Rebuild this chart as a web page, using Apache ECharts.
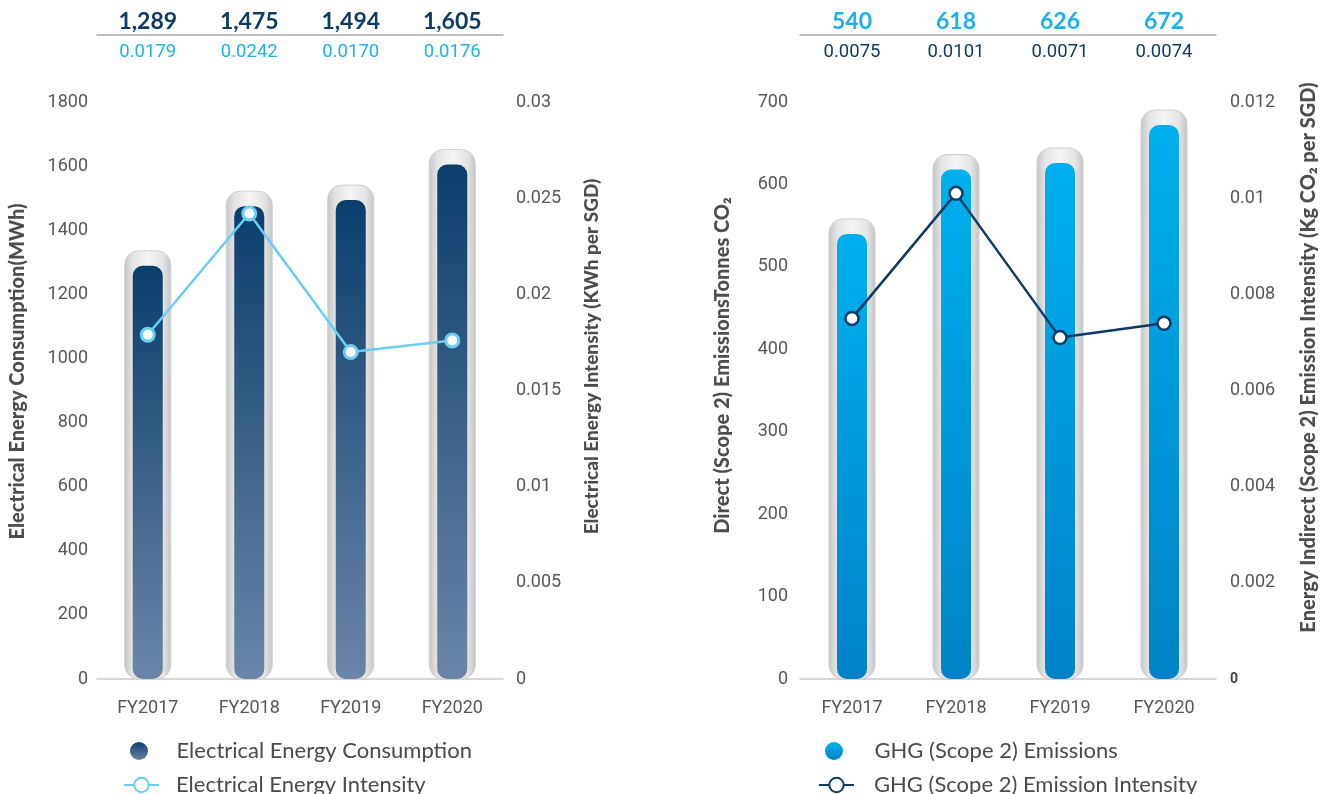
<!DOCTYPE html>
<html>
<head>
<meta charset="utf-8">
<script src="https://cdn.jsdelivr.net/npm/echarts@6/dist/echarts.min.js"></script>
<style>
html,body{margin:0;padding:0;background:#fff;}
#chart{width:1324px;height:794px;}
</style>
</head>
<body>
<div id="chart"></div>
<script>
const categories = ['FY2017', 'FY2018', 'FY2019', 'FY2020'];
const energyMWh = [1289, 1475, 1494, 1605];
const energyIntensity = [0.0179, 0.0242, 0.0170, 0.0176];
const ghgTonnes = [540, 618, 626, 672];
const ghgIntensity = [0.0075, 0.0101, 0.0071, 0.0074];
const energyTicks = { min: 0, max: 1800, interval: 200 };
const energyIntTicks = { min: 0, max: 0.03, interval: 0.005 };
const ghgTicks = { min: 0, max: 700, interval: 100 };
const ghgIntTicks = { min: 0, max: 0.012, interval: 0.002 };

const chart = echarts.init(document.getElementById('chart'));
const G = echarts.graphic;
const tickFont = 'Roboto, "Liberation Sans", sans-serif';
const nameFont = 'Lato, "Noto Sans", sans-serif';
const tickColor = '#575757';
const nameColor = '#4d4d4d';
const axisLineStyle = { onZero: false, lineStyle: { color: '#c9c9c9', width: 1.5 } };

function capsuleItem(params, api) {
  const top = api.coord([api.value(0), api.value(1)]);
  const base = api.coord([api.value(0), 0]);
  const w = 46, pad = 15;
  return {
    type: 'rect',
    shape: { x: top[0] - w / 2, y: top[1] - pad, width: w, height: base[1] - top[1] + pad, r: 14 },
    style: {
      fill: new G.LinearGradient(0, 0, 1, 0, [
        { offset: 0, color: '#c4c4c4' },
        { offset: 0.18, color: '#e4e4e4' },
        { offset: 0.5, color: '#f5f5f5' },
        { offset: 0.82, color: '#e4e4e4' },
        { offset: 1, color: '#c4c4c4' }
      ]),
      stroke: '#cfcfcf',
      lineWidth: 1
    }
  };
}

function yAxisCfg(gridIndex, pos, ticks, name, nameGap, nameSize, margin, shiftUp, extra) {
  return Object.assign({
    type: 'value', gridIndex: gridIndex, position: pos,
    min: ticks.min, max: ticks.max, interval: ticks.interval,
    name: name, nameLocation: 'middle', nameRotate: 90, nameGap: nameGap,
    nameTextStyle: { fontFamily: nameFont, fontWeight: 900, fontSize: nameSize, color: nameColor, padding: [0, 0, 0, shiftUp * 2] },
    axisLine: { show: false }, axisTick: { show: false }, splitLine: { show: false },
    axisLabel: { fontFamily: tickFont, fontSize: 18, color: tickColor, margin: margin, formatter: v => String(v) }
  }, extra || {});
}

function xAxes(gridIndex, topVals, topFmt, topColor, subVals, subFmt, subColor) {
  return [
    {
      type: 'category', gridIndex: gridIndex, data: categories, position: 'bottom',
      axisLine: axisLineStyle, axisTick: { show: false },
      axisLabel: { fontFamily: tickFont, fontSize: 18, color: tickColor, margin: 20 }
    },
    {
      type: 'category', gridIndex: gridIndex, data: categories, position: 'top', offset: 67,
      axisLine: { show: true, onZero: false, lineStyle: { color: '#a8a8a8', width: 1.5 } }, axisTick: { show: false },
      axisLabel: {
        margin: 2, fontFamily: nameFont, fontWeight: 'bold', fontSize: 23, color: topColor,
        formatter: function (v, i) { return topFmt(topVals[i]); }
      }
    },
    {
      type: 'category', gridIndex: gridIndex, data: categories, position: 'top', offset: 38,
      axisLine: { show: false, onZero: false }, axisTick: { show: false },
      axisLabel: {
        margin: 2, fontFamily: tickFont, fontSize: 18.5, color: subColor,
        formatter: function (v, i) { return subFmt(subVals[i]); }
      }
    }
  ];
}

const fmtInt = v => v.toLocaleString('en-US');
const fmt4 = v => v.toFixed(4);

function legendCfg(left, top, name, icon, pad) {
  const item = icon ? { name: name, icon: icon } : { name: name };
  return {
    orient: 'vertical', left: left, top: top, itemWidth: 35, itemHeight: 18,
    textStyle: { fontFamily: nameFont, fontSize: 22, color: '#4a4a4a', padding: [0, 0, 0, pad] },
    data: [item]
  };
}

const option = {
  backgroundColor: '#fff',
  animation: false,
  grid: [
    { left: 97, top: 102, width: 406, height: 577 },
    { left: 800, top: 102, width: 416, height: 577 }
  ],
  xAxis: [].concat(
    xAxes(0, energyMWh, fmtInt, '#0d3b66', energyIntensity, fmt4, '#1fb1ea'),
    xAxes(1, ghgTonnes, fmtInt, '#1ab0ea', ghgIntensity, fmt4, '#0d3b66')
  ),
  yAxis: [
    yAxisCfg(0, 'left', energyTicks, 'Electrical Energy Consumption(MWh)', 69, 20, 9, 19),
    yAxisCfg(0, 'right', energyIntTicks, 'Electrical Energy Intensity (KWh per SGD)', 79, 19, 13, 34),
    yAxisCfg(1, 'left', ghgTicks, 'Direct (Scope 2) EmissionsTonnes CO₂', 67, 20, 12, 25),
    yAxisCfg(1, 'right', ghgIntTicks, 'Energy Indirect (Scope 2) Emission Intensity (Kg CO₂ per SGD)', 83, 20, 14, 33, {
      axisLabel: {
        fontFamily: tickFont, fontSize: 18, color: tickColor, margin: 14,
        formatter: function (v) { return v === 0 ? '{b|0}' : String(v); },
        rich: { b: { fontFamily: tickFont, fontWeight: 'bold', fontSize: 14, color: '#444' } }
      }
    })
  ],
  legend: [
    legendCfg(125, 735, 'Electrical Energy Consumption', 'circle', 15),
    legendCfg(118, 769, 'Electrical Energy Intensity', null, 12),
    legendCfg(820, 735, 'GHG (Scope 2) Emissions', 'circle', 18),
    legendCfg(813, 769, 'GHG (Scope 2) Emission Intensity', null, 15)
  ],
  series: [
    {
      type: 'custom', name: 'capsuleL', xAxisIndex: 0, yAxisIndex: 0, z: 1, silent: true,
      renderItem: capsuleItem, data: energyMWh.map((v, i) => [i, v])
    },
    {
      type: 'bar', name: 'Electrical Energy Consumption', xAxisIndex: 0, yAxisIndex: 0, z: 2,
      barWidth: 30, data: energyMWh,
      itemStyle: {
        borderRadius: 10,
        color: new G.LinearGradient(0, 0, 0, 1, [
          { offset: 0, color: '#0a3e6c' },
          { offset: 1, color: '#6b85a8' }
        ])
      }
    },
    {
      type: 'line', name: 'Electrical Energy Intensity', xAxisIndex: 0, yAxisIndex: 1, z: 3,
      data: energyIntensity, symbol: 'circle', symbolSize: 13,
      lineStyle: { color: '#6acdf2', width: 2.5 },
      itemStyle: { color: '#ffffff', borderColor: '#6acdf2', borderWidth: 3 }
    },
    {
      type: 'custom', name: 'capsuleR', xAxisIndex: 3, yAxisIndex: 2, z: 1, silent: true,
      renderItem: capsuleItem, data: ghgTonnes.map((v, i) => [i, v])
    },
    {
      type: 'bar', name: 'GHG (Scope 2) Emissions', xAxisIndex: 3, yAxisIndex: 2, z: 2,
      barWidth: 30, data: ghgTonnes,
      itemStyle: {
        borderRadius: 10,
        color: new G.LinearGradient(0, 0, 0, 1, [
          { offset: 0, color: '#00b0ee' },
          { offset: 1, color: '#0082c7' }
        ])
      }
    },
    {
      type: 'line', name: 'GHG (Scope 2) Emission Intensity', xAxisIndex: 3, yAxisIndex: 3, z: 3,
      data: ghgIntensity, symbol: 'circle', symbolSize: 13,
      lineStyle: { color: '#0d3b66', width: 2.5 },
      itemStyle: { color: '#ffffff', borderColor: '#0d3b66', borderWidth: 2.5 }
    }
  ]
};
chart.setOption(option);
</script>
</body>
</html>
